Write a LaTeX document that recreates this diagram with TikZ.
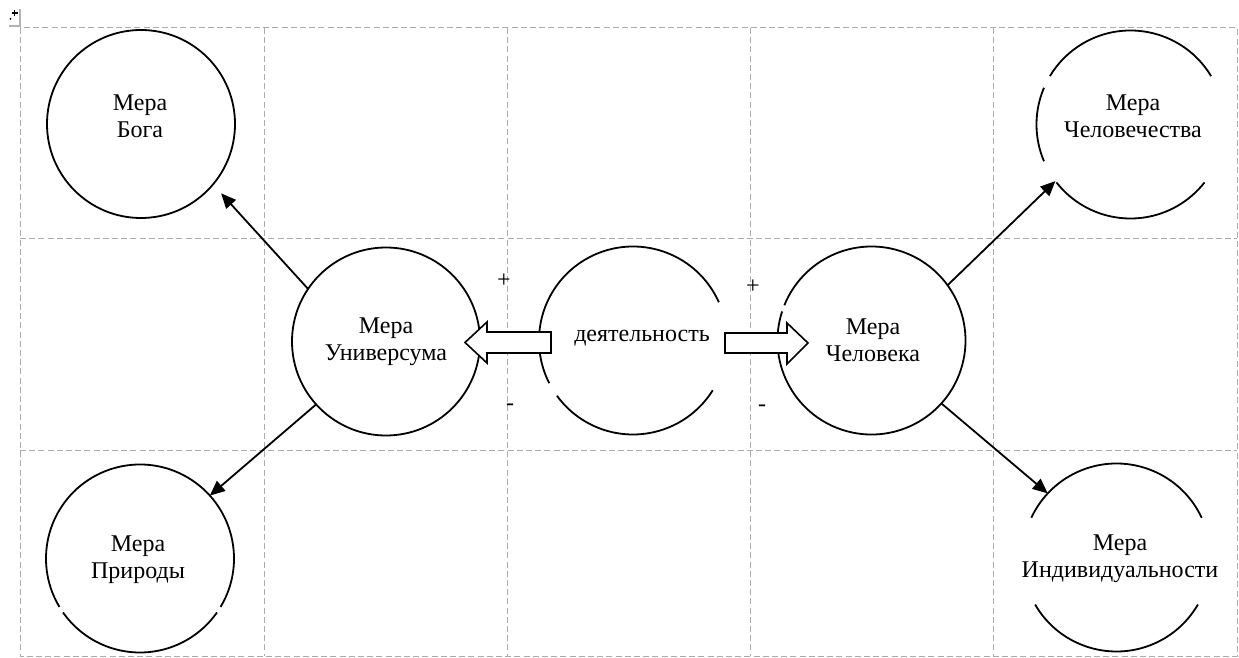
\documentclass[tikz,border=0pt]{standalone}
\usepackage{fontspec}
\setmainfont{Liberation Serif}
\usetikzlibrary{arrows.meta,calc}
\begin{document}
\begin{tikzpicture}[x=0.5pt,y=-0.5pt,
  gridline/.style={draw=gray!65, line width=0.5pt, dash pattern=on 3pt off 1.6pt},
  circ/.style={circle, minimum size=94pt, inner sep=0pt, outer sep=0pt},
  ring/.style={line width=0.9pt},
  link/.style={line width=0.9pt, -{Triangle[length=7.5pt,width=6.5pt]}},
  txt/.style={font=\fontsize{12}{13.5}\selectfont, align=center, inner sep=0pt},
  block/.style={draw, line width=0.8pt, fill=white, line join=miter}]
\useasboundingbox (0,0) rectangle (1239,658);
% table handle
\draw[gray!60, line width=0.6pt] (9,26) -- (20,26) -- (20,9);
\draw[line width=0.6pt] (11.5,13) -- (17.5,13) (14.5,10) -- (14.5,16);
\fill (10.5,19) circle (0.5pt);
% grid
\draw[gridline] (20,28) rectangle (1237,656);
\foreach \gx in {264,507,750,993} \draw[gridline] (\gx,28) -- (\gx,656);
\foreach \gy in {239,450} \draw[gridline] (20,\gy) -- (1237,\gy);
% circles
\node[circ, draw, ring] (B) at (141,124) {};
\node[circ, draw, ring] (U) at (386,341.5) {};
\node[circ] (D) at (633,340.5) {};
\node[circ] (C) at (871.5,340.5) {};
\node[circ] (H) at (1130.5,124.5) {};
\node[circ] (I) at (1116.5,557.5) {};
\node[circ] (P) at (140,558.5) {};
\draw[ring] (D.24) arc[start angle=24, end angle=207, radius=47pt];
\draw[ring] (D.216) arc[start angle=216, end angle=328, radius=47pt];
\draw[ring] (C.162) arc[start angle=162, end angle=518, radius=47pt];
\draw[ring] (H.31) arc[start angle=31, end angle=149, radius=47pt];
\draw[ring] (H.157) arc[start angle=157, end angle=203, radius=47pt];
\draw[ring] (H.218) arc[start angle=218, end angle=322, radius=47pt];
\draw[ring] (I.25) arc[start angle=25, end angle=155, radius=47pt];
\draw[ring] (I.210) arc[start angle=210, end angle=330, radius=47pt];
\draw[ring] (P.-31) arc[start angle=-31, end angle=211, radius=47pt];
\draw[ring] (P.215) arc[start angle=215, end angle=325, radius=47pt];
% connectors
\draw[link, shorten >=6pt] (U.146) -- (B.-40);
\draw[link] (U.222) -- (P.42);
\draw[link] (C.36) -- (H.217);
\draw[link] (C.-42) -- (I.137);
% block arrows
\draw[block] (551,332) -- (487,332) -- (487,322) -- (465,342.5) -- (487,363) -- (487,353) -- (551,353) -- cycle;
\draw[block] (725,333) -- (787,333) -- (787,323) -- (808,343) -- (787,364) -- (787,353) -- (725,353) -- cycle;
% texts
\node[txt] (Bt) at (140,116) {Мера\\Бога};
\node[txt] (Ut) at (386,342) {Мера\\Универсума};
\node[txt] (Dt) at (642,338) {деятельность};
\node[txt] (Ct) at (873,340) {Мера\\Человека};
\node[txt] (Ht) at (1133,116.5) {Мера\\Человечества};
\node[txt] (It) at (1120,558.5) {Мера\\Индивидуальности};
\node[txt] (Pt) at (138,560) {Мера\\Природы};
\node[txt] (p1) at (504,281) {+};
\node[txt] (m1) at (510,407) {-};
\node[txt] (p2) at (753,287) {+};
\node[txt] (m2) at (762,408) {-};
\end{tikzpicture}
\end{document}
